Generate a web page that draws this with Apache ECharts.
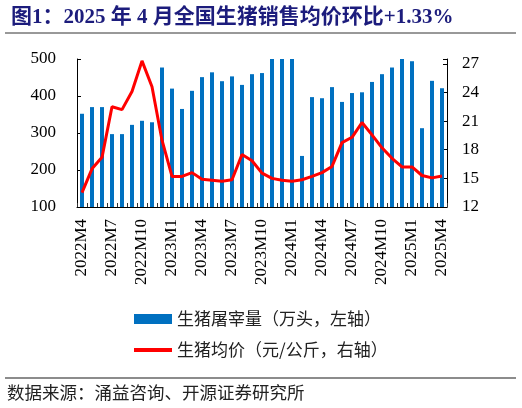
<!DOCTYPE html>
<html>
<head>
<meta charset="utf-8">
<script src="https://cdn.jsdelivr.net/npm/echarts@6/dist/echarts.min.js"></script>
<style>
  html, body { margin: 0; padding: 0; background: #fff; }
  #chart { width: 522px; height: 408px; }
</style>
</head>
<body>
<div id="chart"></div>
<script>
// 月份
var months = [
    '2022M4', '2022M5', '2022M6', '2022M7', '2022M8', '2022M9', '2022M10', '2022M11', '2022M12',
    '2023M1', '2023M2', '2023M3', '2023M4', '2023M5', '2023M6', '2023M7', '2023M8', '2023M9',
    '2023M10', '2023M11', '2023M12', '2024M1', '2024M2', '2024M3', '2024M4', '2024M5', '2024M6',
    '2024M7', '2024M8', '2024M9', '2024M10', '2024M11', '2024M12', '2025M1', '2025M2', '2025M3',
    '2025M4'
];
// 生猪屠宰量（万头）
var slaughter = [
    352, 370, 370, 297, 297, 322, 333, 329, 477,
    420, 365, 414, 451, 464, 440, 453, 430, 459,
    462, 508, 515, 510, 238, 397, 394, 424, 384,
    408, 410, 438, 459, 477, 502, 494, 313, 441,
    421
];
// 生猪均价（元/公斤）
var price = [
    13.5, 16.0, 17.2, 22.5, 22.2, 24.1, 27.3, 24.6, 19.0,
    15.2, 15.2, 15.6, 14.9, 14.8, 14.7, 14.85, 17.5, 16.85,
    15.55, 15.0, 14.8, 14.7, 14.85, 15.2, 15.6, 16.25, 18.75,
    19.3, 20.85, 19.55, 18.2, 17.1, 16.2, 16.2, 15.3, 15.05,
    15.25
];

var serif = '"Liberation Serif", "Times New Roman", serif';
var cjk = '"Liberation Serif", "Noto Sans CJK SC", sans-serif';

var chart = echarts.init(document.getElementById('chart'));

var option = {
    backgroundColor: '#fff',
    animation: false,
    title: {
        text: '图1：2025 年 4 月全国生猪销售均价环比+1.33%',
        left: 6,
        top: 2,
        textStyle: {
            color: '#1c1c7c',
            fontSize: 21,
            fontWeight: 'bold',
            fontFamily: cjk
        }
    },
    legend: {
        orient: 'vertical',
        left: 129,
        top: 305,
        itemWidth: 38,
        itemHeight: 10,
        itemGap: 13,
        textStyle: {
            fontSize: 17,
            color: '#222',
            fontFamily: '"Noto Sans CJK SC", sans-serif',
            lineHeight: 18
        },
        data: [
            { name: '生猪屠宰量（万头，左轴）', icon: 'rect' },
            { name: '生猪均价（元/公斤，右轴）', icon: 'path://M0,0 L38,0 L38,4 L0,4 Z' }
        ]
    },
    grid: {
        left: 77,
        right: 75,
        top: 59,
        height: 148
    },
    xAxis: {
        type: 'category',
        data: months,
        boundaryGap: true,
        axisLine: { lineStyle: { color: '#000', width: 1 } },
        axisTick: {
            show: true,
            inside: true,
            length: 4,
            interval: 0,
            lineStyle: { color: '#333' }
        },
        axisLabel: {
            interval: 2,
            rotate: 90,
            margin: 12,
            color: '#000',
            fontSize: 17,
            fontFamily: serif
        }
    },
    yAxis: [
        {
            type: 'value',
            min: 100,
            max: 500,
            interval: 100,
            axisLine: { show: true, lineStyle: { color: '#000' } },
            axisTick: { show: true, inside: true, length: 4, lineStyle: { color: '#000' } },
            splitLine: { show: false },
            axisLabel: {
                margin: 21,
                color: '#000',
                fontSize: 17,
                fontFamily: serif
            }
        },
        {
            type: 'value',
            min: 12,
            max: 27.5,
            interval: 3,
            axisLine: { show: true, lineStyle: { color: '#000' } },
            axisTick: { show: true, inside: true, length: 4, lineStyle: { color: '#000' } },
            splitLine: { show: false },
            axisLabel: {
                margin: 15,
                color: '#000',
                fontSize: 17,
                fontFamily: serif,
                formatter: function (v) {
                    return (v - 12) % 3 === 0 ? String(v) : '';
                }
            }
        }
    ],
    series: [
        {
            name: '生猪屠宰量（万头，左轴）',
            type: 'bar',
            yAxisIndex: 0,
            data: slaughter,
            barWidth: 4,
            clip: true,
            itemStyle: { color: '#0070C0' }
        },
        {
            name: '生猪均价（元/公斤，右轴）',
            type: 'line',
            yAxisIndex: 1,
            data: price,
            symbol: 'none',
            showSymbol: false,
            smooth: false,
            lineStyle: { color: '#ff0000', width: 3 },
            itemStyle: { color: '#ff0000' }
        }
    ],
    graphic: [
        {
            type: 'line',
            shape: { x1: 5, y1: 33, x2: 516, y2: 33 },
            style: { stroke: '#333', lineWidth: 1 }
        },
        {
            type: 'line',
            shape: { x1: 5, y1: 378, x2: 516, y2: 378 },
            style: { stroke: '#666', lineWidth: 1.5 }
        },
        {
            type: 'text',
            left: 7,
            top: 384,
            style: {
                text: '数据来源：涌益咨询、开源证券研究所',
                fill: '#222',
                fontSize: 17.5,
                fontFamily: '"Noto Sans CJK SC", sans-serif'
            }
        }
    ]
};

chart.setOption(option);
</script>
</body>
</html>
